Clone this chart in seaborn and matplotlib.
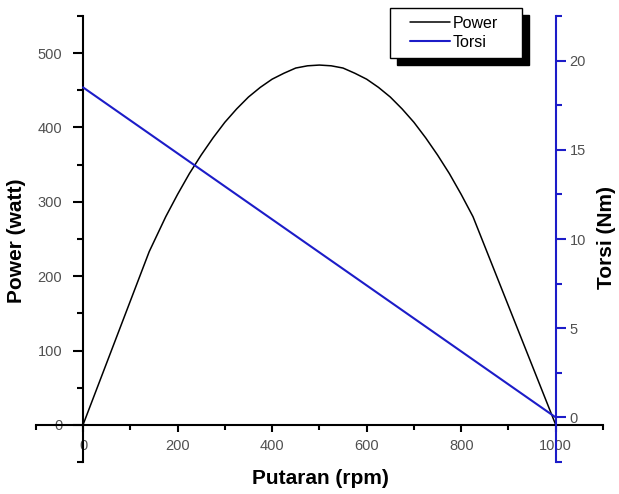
import numpy as np
import matplotlib
matplotlib.use("Agg")
import matplotlib.pyplot as plt
from matplotlib.legend_handler import HandlerLine2D
from matplotlib.ticker import MultipleLocator, FixedLocator
import seaborn as sns

# Measured curves
rpm_power = [0, 140, 175, 200, 225, 250, 275, 300, 325, 350, 375, 400, 425, 450,
             475, 500, 525, 550, 575, 600, 625, 650, 675, 700, 725, 750, 775,
             800, 825, 1000]
power_watt = [0, 233, 280, 310, 338, 363, 386, 407, 425, 441, 454, 465, 473, 480,
              483, 484, 483, 480, 473, 465, 454, 441, 425, 407, 386, 363, 338,
              310, 280, 0]
rpm_torque = [0, 1000]
torque_nm = [18.5, 0]

x_ticks = [0, 200, 400, 600, 800, 1000]
power_ticks = [0, 100, 200, 300, 400, 500]
torque_ticks = [0, 5, 10, 15, 20]

BLUE = "#1c1cc8"
GREY = "#505050"

sns.set_theme(style="white")
plt.rcParams["font.family"] = ["Liberation Sans", "DejaVu Sans"]

W, H = 619, 494
fig = plt.figure(figsize=(W / 100, H / 100), dpi=100)
fig.patch.set_facecolor("white")
ax = fig.add_axes([35.75 / W, 32 / H, 567.25 / W, 446 / H])
ax.set_facecolor("none")
ax2 = ax.twinx()

sns.lineplot(x=rpm_power, y=power_watt, ax=ax, color="black", linewidth=1.1,
             label="Power", legend=False)
sns.lineplot(x=rpm_torque, y=torque_nm, ax=ax2, color=BLUE, linewidth=1.5,
             label="Torsi", legend=False)

ax.set_xlim(-100, 1100)
ax.set_ylim(-50, 550)
ax2.set_ylim(-2.5, 22.5)

# Origin-style crossed axes
ax.spines["left"].set_position(("data", 0))
ax.spines["bottom"].set_position(("data", 0))
for s in ("top", "right"):
    ax.spines[s].set_visible(False)
for s in ("top", "left", "bottom"):
    ax2.spines[s].set_visible(False)
ax2.spines["right"].set_position(("data", 1000))
ax2.spines["right"].set_color(BLUE)
for s in ("left", "bottom"):
    ax.spines[s].set_color("black")
    ax.spines[s].set_linewidth(1.5)
ax2.spines["right"].set_linewidth(1.5)

ax.xaxis.set_major_locator(FixedLocator(x_ticks))
ax.xaxis.set_minor_locator(MultipleLocator(100))
ax.yaxis.set_major_locator(FixedLocator(power_ticks))
ax.yaxis.set_minor_locator(MultipleLocator(50))
ax2.yaxis.set_major_locator(FixedLocator(torque_ticks))
ax2.yaxis.set_minor_locator(MultipleLocator(2.5))

ax.tick_params(axis="x", which="major", direction="out", length=5, width=1.5,
               color="black", labelcolor=GREY, labelsize=10.5, pad=5,
               bottom=True, top=False)
ax.tick_params(axis="x", which="minor", direction="out", length=3.5, width=1.5,
               color="black", bottom=True, top=False)
ax.tick_params(axis="y", which="major", direction="out", length=7, width=1.5,
               color="black", labelcolor=GREY, labelsize=10.5, pad=8,
               left=True, right=False)
ax.tick_params(axis="y", which="minor", direction="out", length=4, width=1.5,
               color="black", left=True, right=False)
ax2.tick_params(axis="y", which="major", direction="out", length=7, width=1.5,
                color=BLUE, labelcolor=GREY, labelsize=10.5, pad=3)
ax2.tick_params(axis="y", which="minor", direction="out", length=4, width=1.5,
                color=BLUE)
ax.grid(False)
ax2.grid(False)

label_font = dict(fontsize=15, fontweight="bold", color="black")
ax.set_xlabel("Putaran (rpm)", **label_font)
ax.xaxis.set_label_coords(0.501, -0.036)
ax.xaxis.label.set_va("center")
ax.set_ylabel("Power (watt)", **label_font)
ax.yaxis.set_label_coords((17 - 35.75) / 567.25, 0.4955)
ax.yaxis.label.set_va("center")
ax2.set_ylabel("Torsi (Nm)", **label_font)
ax2.yaxis.set_label_coords((606 - 35.75) / 567.25, 0.504)
ax2.yaxis.label.set_va("center")


class LeadInLine(HandlerLine2D):
    """Legend line sample that starts a little way into the handle box."""

    def get_xdata(self, legend, xdescent, ydescent, width, height, fontsize):
        lead = 0.75 * fontsize
        xdata = np.array([-xdescent + lead, -xdescent + width])
        return xdata, xdata[:1]


handles = ax.get_lines()[:1] + ax2.get_lines()[:1]
leg = fig.legend(handles, ["Power", "Torsi"],
                 loc="upper left",
                 bbox_to_anchor=(390 / W, 1 - 60 / H, 132 / W, 52 / H),
                 bbox_transform=fig.transFigure, mode="expand",
                 borderaxespad=0, borderpad=0.5, labelspacing=0.25,
                 handlelength=3.25, handletextpad=0.15,
                 fontsize=11.5, frameon=True, fancybox=False,
                 edgecolor="black", framealpha=1,
                 shadow={"color": "black", "alpha": 1, "ox": 5, "oy": -5},
                 handler_map={plt.Line2D: LeadInLine()})
leg.get_frame().set_linewidth(1.0)
for t in leg.get_texts():
    t.set_color("black")

fig.savefig("out.png", dpi=100)
